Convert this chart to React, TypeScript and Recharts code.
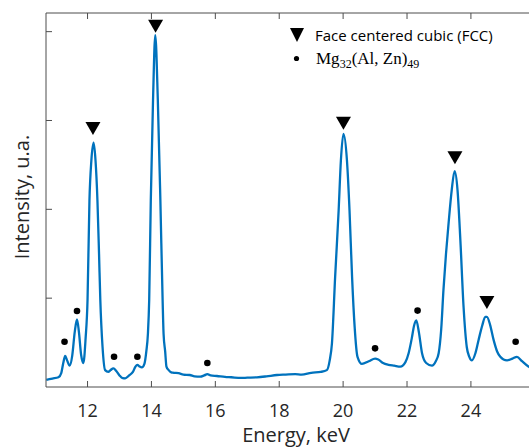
import React from 'react';
import { ComposedChart, Line, Scatter, XAxis, YAxis, Label } from 'recharts';

// spectrum (keV, arbitrary intensity)
const energy = [
  10.71, 10.9, 11.09, 11.18, 11.24, 11.3, 11.36, 11.44, 11.52, 11.6, 11.67, 11.73, 11.8, 11.87, 11.94,
  12.0, 12.06, 12.12, 12.19, 12.25, 12.31, 12.36, 12.4, 12.47, 12.55, 12.65, 12.72, 12.81, 12.9, 13.0,
  13.1, 13.18, 13.3, 13.42, 13.5, 13.56, 13.63, 13.7, 13.78, 13.84, 13.89, 13.93, 13.98, 14.05, 14.12,
  14.2, 14.28, 14.35, 14.38, 14.43, 14.47, 14.54, 14.62, 14.7, 14.85, 15.0, 15.2, 15.35, 15.53, 15.65,
  15.75, 15.85, 16.05, 16.3, 16.5, 16.8, 17.0, 17.3, 17.6, 17.93, 18.2, 18.5, 18.7, 19.0, 19.3,
  19.49, 19.58, 19.65, 19.75, 19.86, 19.93, 20.01, 20.12, 20.2, 20.28, 20.36, 20.45, 20.59, 20.8, 21.0,
  21.1, 21.25, 21.42, 21.6, 21.79, 21.95, 22.05, 22.15, 22.22, 22.29, 22.37, 22.47, 22.6, 22.78, 22.9,
  22.99, 23.07, 23.14, 23.22, 23.3, 23.4, 23.49, 23.58, 23.67, 23.77, 23.87, 23.95, 24.03, 24.14, 24.24,
  24.36, 24.45, 24.5, 24.6, 24.71, 24.82, 24.92, 25.02, 25.13, 25.3, 25.44, 25.6, 25.8, 26.0, 26.35,
];
const intensity = [
  0.08, 0.095, 0.11, 0.16, 0.27, 0.35, 0.3, 0.24, 0.35, 0.62, 0.76, 0.62, 0.36, 0.27, 0.55,
  0.98, 2.1, 2.55, 2.75, 2.55, 2.1, 1.5, 0.98, 0.45, 0.19, 0.17, 0.19, 0.21, 0.18, 0.13,
  0.1, 0.098, 0.13, 0.17, 0.23, 0.25, 0.23, 0.22, 0.26, 0.4, 0.6, 0.98, 2.1, 3.23, 3.96,
  3.23, 2.1, 0.98, 0.6, 0.4, 0.23, 0.19, 0.165, 0.16, 0.155, 0.14, 0.135, 0.12, 0.116, 0.13,
  0.145, 0.13, 0.124, 0.115, 0.11, 0.102, 0.105, 0.109, 0.12, 0.135, 0.14, 0.145, 0.14, 0.16, 0.17,
  0.19, 0.3, 0.49, 1.24, 1.99, 2.55, 2.85, 2.55, 1.99, 1.24, 0.68, 0.34, 0.26, 0.29, 0.32,
  0.31, 0.27, 0.25, 0.24, 0.23, 0.28, 0.38, 0.55, 0.69, 0.75, 0.62, 0.38, 0.27, 0.24, 0.29,
  0.38, 0.65, 1.09, 1.5, 1.84, 2.22, 2.43, 2.22, 1.65, 0.9, 0.45, 0.34, 0.3, 0.38, 0.53,
  0.7, 0.79, 0.79, 0.7, 0.53, 0.4, 0.34, 0.31, 0.3, 0.32, 0.34, 0.29, 0.23, 0.2, 0.18,
];

// phase markers
const fccEnergy = [12.17, 14.13, 20.01, 23.5, 24.5];
const fccLevel = [2.91, 4.06, 2.97, 2.58, 0.95];
const mgEnergy = [11.28, 11.67, 12.83, 13.56, 15.75, 21.0, 22.33, 25.4];
const mgLevel = [0.51, 0.855, 0.34, 0.34, 0.27, 0.435, 0.86, 0.51];

const xTicks = [12, 14, 16, 18, 20, 22, 24];
const yTicks = [1, 2, 3, 4];

const spectrum = energy.map((e, k) => ({ e, i: intensity[k] }));
const fcc = fccEnergy.map((e, k) => ({ e, i: fccLevel[k] }));
const mg = mgEnergy.map((e, k) => ({ e, i: mgLevel[k] }));

const AXIS = '#4d4d4d';
const TEXT = '#262626';
const BLUE = '#0072BD';
const FONT = '"Open Sans", sans-serif';
const TOP = 13;
const BOTTOM = 387;

// bottom tick: inward mark on the bottom and top frame + label
const BottomTick = ({ x, payload }: any) => (
  <g>
    <line x1={x} x2={x} y1={BOTTOM} y2={BOTTOM - 6} stroke={AXIS} />
    <line x1={x} x2={x} y1={TOP} y2={TOP + 6} stroke={AXIS} />
    <text x={x} y={BOTTOM + 30} textAnchor="middle" fill={TEXT} fontSize={18} fontFamily={FONT}>
      {payload.value}
    </text>
  </g>
);

const LeftTick = ({ x, y }: any) => <line x1={x} x2={x + 6} y1={y} y2={y} stroke={AXIS} />;

const Triangle = ({ cx, cy }: any) => (
  <polygon points={`${cx - 7.5},${cy - 6.5} ${cx + 7.5},${cy - 6.5} ${cx},${cy + 6.5}`} fill="#000" />
);

const Dot = ({ cx, cy }: any) => <circle cx={cx} cy={cy} r={3.3} fill="#000" />;

const XLabel = ({ viewBox }: any) => (
  <text x={viewBox.x + viewBox.width / 2} y={viewBox.y + 55} textAnchor="middle" fill={TEXT} fontSize={20} fontFamily={FONT}>
    Energy, keV
  </text>
);

const YLabel = ({ viewBox }: any) => {
  const x = 29;
  const y = viewBox.y + viewBox.height / 2 - 3;
  return (
    <text x={x} y={y} transform={`rotate(-90, ${x}, ${y})`} textAnchor="middle" fill={TEXT} fontSize={20} fontFamily={FONT}>
      Intensity, u.a.
    </text>
  );
};

export default function App() {
  return (
    <div style={{ position: 'absolute', left: 0, top: 0, width: 529, height: 447, overflow: 'hidden', background: '#fff' }}>
      <ComposedChart width={560} height={447} margin={{ top: 12, right: 14, bottom: 0, left: 45 }}>
        <XAxis
          dataKey="e"
          type="number"
          domain={[10.7, 26.35]}
          ticks={xTicks}
          allowDataOverflow
          height={60}
          tickSize={0}
          tickMargin={0}
          tickLine={false}
          tick={<BottomTick />}
          axisLine={{ stroke: AXIS }}
        >
          <Label content={XLabel} />
        </XAxis>
        <XAxis
          xAxisId="top"
          orientation="top"
          type="number"
          domain={[10.7, 26.35]}
          allowDataOverflow
          height={1}
          tick={false}
          tickLine={false}
          axisLine={{ stroke: AXIS }}
        />
        <YAxis
          type="number"
          domain={[0, 4.21]}
          ticks={yTicks}
          allowDataOverflow
          width={1}
          tickSize={0}
          tickMargin={0}
          tickLine={false}
          tick={<LeftTick />}
          axisLine={{ stroke: AXIS }}
        >
          <Label content={YLabel} />
        </YAxis>
        <Line
          data={spectrum}
          dataKey="i"
          type="monotone"
          stroke={BLUE}
          strokeWidth={2.3}
          dot={false}
          activeDot={false}
          isAnimationActive={false}
        />
        <Scatter data={fcc} dataKey="i" shape={Triangle} isAnimationActive={false} />
        <Scatter data={mg} dataKey="i" shape={Dot} isAnimationActive={false} />
      </ComposedChart>
      <svg width={240} height={70} style={{ position: 'absolute', left: 280, top: 15 }}>
        <polygon points="10,13 24,13 17,27" fill="#000" />
        <text x={35} y={25.5} fill="#000" fontSize={15} fontFamily={FONT}>
          Face centered cubic (FCC)
        </text>
        <circle cx={16.5} cy={43.5} r={2.6} fill="#000" />
        <text x={36} y={48.5} fill="#000" fontSize={17} fontFamily='"Liberation Serif", serif'>
          Mg
          <tspan fontSize={12} dy={4}>32</tspan>
          <tspan dy={-4}>(Al, Zn)</tspan>
          <tspan fontSize={12} dy={4}>49</tspan>
        </text>
      </svg>
    </div>
  );
}
